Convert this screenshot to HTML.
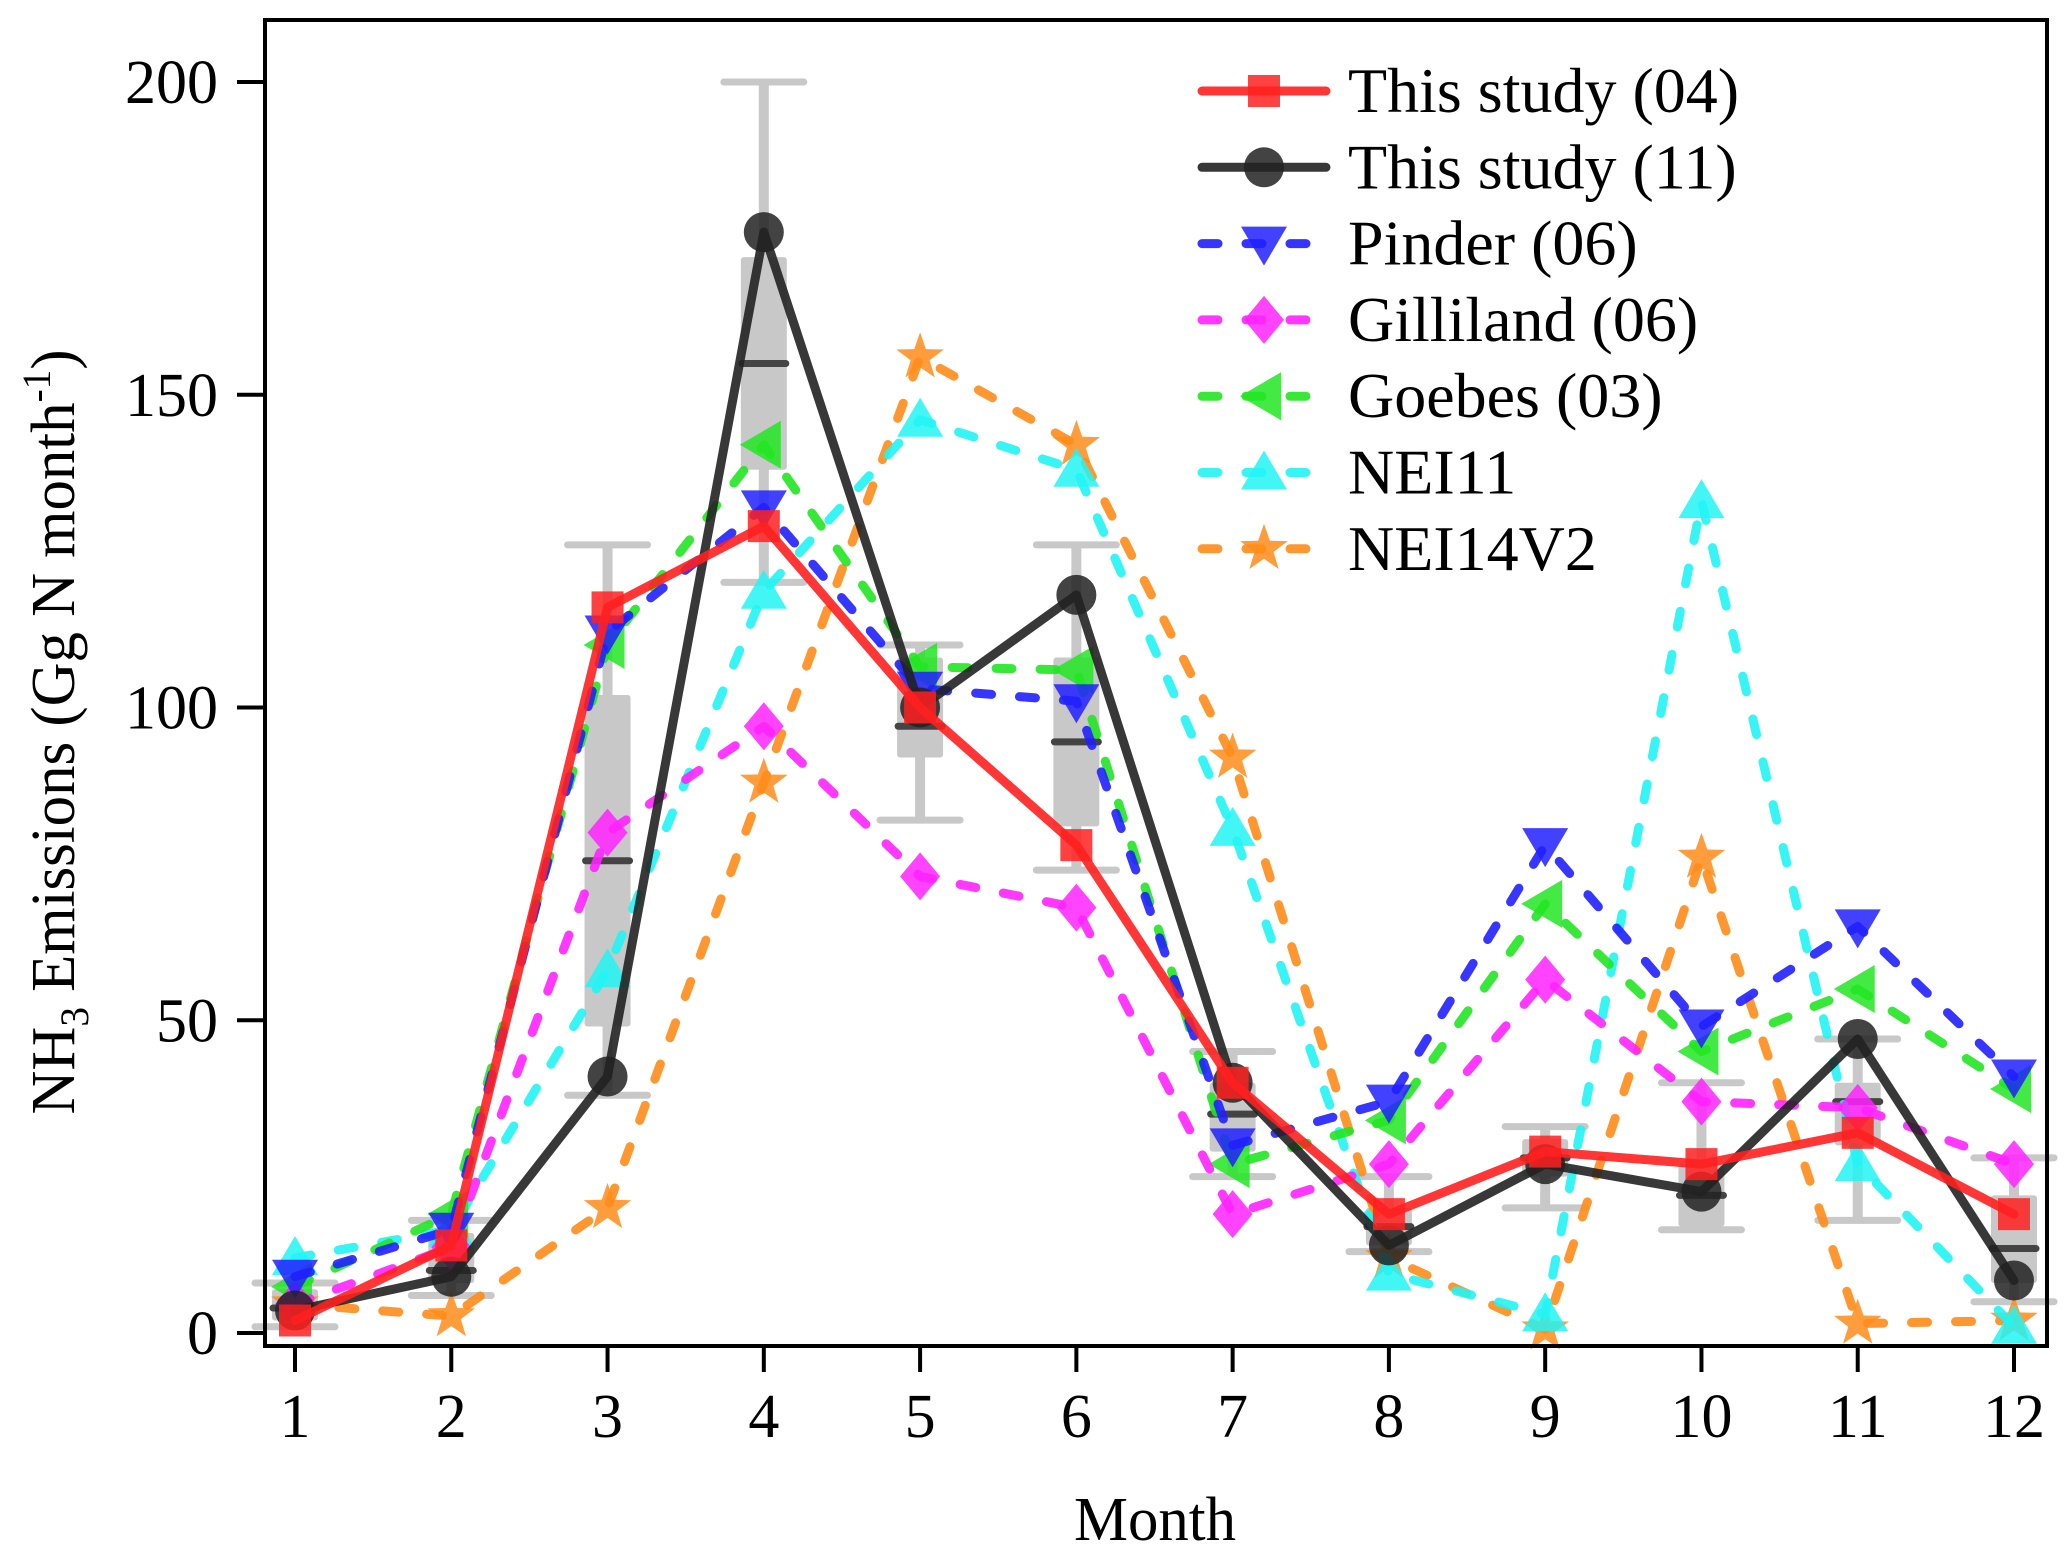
<!DOCTYPE html>
<html><head><meta charset="utf-8"><style>
html,body{margin:0;padding:0;background:#fff;}
svg{display:block;font-family:"Liberation Serif",serif;}
</style></head><body>
<svg id="chart" width="2067" height="1561" viewBox="0 0 2067 1561" xmlns="http://www.w3.org/2000/svg">
<rect x="0" y="0" width="2067" height="1561" fill="#fff"/>
<g id="boxes"></g>
<g id="series"></g>
<g id="axes"></g>
<g id="legend"></g>
<text x="1155" y="1540" font-size="62" text-anchor="middle" textLength="162" lengthAdjust="spacingAndGlyphs">Month</text>
<text transform="translate(74,732) rotate(-90)" font-size="62" text-anchor="middle" textLength="765" lengthAdjust="spacingAndGlyphs">NH<tspan font-size="40" dy="14">3</tspan><tspan dy="-14"> Emissions (Gg N month</tspan><tspan font-size="40" dy="-24">-1</tspan><tspan dy="24">)</tspan></text>
</svg>
<script>
const months = [1,2,3,4,5,6,7,8,9,10,11,12];
const yTicks = [0,50,100,150,200];
const study04 = [2,14,116,129,100,78,40,19,29,27,32,19];
const study11 = [3.6,9,41,176,100,118,40,14,27,22.6,47,8.4];
const pinder06 = [9,16.5,112,132,103,101,30,37,78,49,65,41];
const gilliland06 = [4.6,13.7,80,97,73,68,19,27,56.5,37,36,27];
const goebes03 = [7.4,19,110,142,106.5,106,27,34,68.6,45,55,39];
const nei11 = [12,16.5,58,118.5,146,138,80.6,9.5,3,133,27,1];
const nei14v2 = [4.6,2.7,20,88,156,142,92,12,0.6,76,1.5,2];
const boxWhiskLo = [1,6,38,120,82,74,25,13,20,16.5,18,5];
const boxQ1 = [2,8,49,138,92,81,29,14,25,17,30,8];
const boxMed = [4,10,75.5,155,97,94.5,35,17,28,22,37,13.5];
const boxQ3 = [7,16,102,172,108,108,40,20,31,27,40,22];
const boxWhiskHi = [8,18,126,200,110,126,45,25,33,40,47,28];
const legendLabels = ["This study (04)","This study (11)","Pinder (06)","Gilliland (06)","Goebes (03)","NEI11","NEI14V2"];

const NS="http://www.w3.org/2000/svg";
const X0=265,X1=2047,Y0=20,Y1=1346;
function xs(m){return 295+(m-1)*(2014-295)/11;}
function ys(v){return 1333-v*(1333-82)/200;}
function mk(tag,attrs,parent){const e=document.createElementNS(NS,tag);for(const k in attrs)e.setAttribute(k,attrs[k]);parent.appendChild(e);return e;}

const boxes=document.getElementById('boxes');
months.forEach((m,i)=>{
  const g=mk('g',{},boxes);
  
  
  const x=xs(m);
  mk('line',{x1:x,x2:x,y1:ys(boxWhiskHi[i]),y2:ys(boxWhiskLo[i]),stroke:'#c8c8c8','stroke-width':10},g);
  mk('line',{x1:x-40,x2:x+40,y1:ys(boxWhiskHi[i]),y2:ys(boxWhiskHi[i]),stroke:'#c8c8c8','stroke-width':7,'stroke-linecap':'round'},g);
  mk('line',{x1:x-40,x2:x+40,y1:ys(boxWhiskLo[i]),y2:ys(boxWhiskLo[i]),stroke:'#c8c8c8','stroke-width':7,'stroke-linecap':'round'},g);
  mk('rect',{x:x-23,y:ys(boxQ3[i]),width:46,height:ys(boxQ1[i])-ys(boxQ3[i]),fill:'#c8c8c8',rx:3},g);
  mk('line',{x1:x-22,x2:x+22,y1:ys(boxMed[i]),y2:ys(boxMed[i]),stroke:'#444','stroke-width':7,'stroke-linecap':'round'},g);
});

function marker(shape,x,y,color,parent){
  let e;
  if(shape==='square') e=mk('rect',{x:x-16,y:y-16,width:32,height:32,fill:color},parent);
  else if(shape==='circle') e=mk('circle',{cx:x,cy:y,r:20,fill:color},parent);
  else if(shape==='tdown') e=mk('polygon',{points:`${x-23},${y-17} ${x+23},${y-17} ${x},${y+22}`,fill:color},parent);
  else if(shape==='diamond') e=mk('polygon',{points:`${x},${y-24} ${x+20},${y} ${x},${y+24} ${x-20},${y}`,fill:color},parent);
  else if(shape==='tleft') e=mk('polygon',{points:`${x-24},${y} ${x+17},${y-24} ${x+17},${y+24}`,fill:color},parent);
  else if(shape==='tup') e=mk('polygon',{points:`${x-23},${y+17} ${x+23},${y+17} ${x},${y-22}`,fill:color},parent);
  else if(shape==='star'){let p=[];for(let k=0;k<10;k++){const r=k%2?10:25;const a=-Math.PI/2+k*Math.PI/5;p.push((x+r*Math.cos(a)).toFixed(1)+','+(y+r*Math.sin(a)).toFixed(1));}e=mk('polygon',{points:p.join(' '),fill:color},parent);}
  e.setAttribute('opacity','0.85');
  return e;
}

const seriesDefs=[
 {name:'nei14v2',data:nei14v2,color:'#ff8c1a',shape:'star',dash:true},
 {name:'nei11',data:nei11,color:'#22f4f4',shape:'tup',dash:true},
 {name:'goebes03',data:goebes03,color:'#22e622',shape:'tleft',dash:true},
 {name:'gilliland06',data:gilliland06,color:'#ff22ff',shape:'diamond',dash:true},
 {name:'pinder06',data:pinder06,color:'#2020ff',shape:'tdown',dash:true},
 {name:'study11',data:study11,color:'#222222',shape:'circle',dash:false},
 {name:'study04',data:study04,color:'#ff2020',shape:'square',dash:false}
];
const sl=document.getElementById('series');
seriesDefs.forEach(s=>{
  const g=mk('g',{},sl);
  
  
  const pts=s.data.map((v,i)=>xs(months[i]).toFixed(1)+','+ys(v).toFixed(1)).join(' ');
  const pl=mk('polyline',{points:pts,fill:'none',stroke:s.color,'stroke-width':9,'stroke-linecap':'round','stroke-linejoin':'round',opacity:0.9},g);
  if(s.dash) pl.setAttribute('stroke-dasharray','16 28');
  s.data.forEach((v,i)=>{
    const mkr=marker(s.shape,xs(months[i]),ys(v),s.color,g);
    
    
  });
});

const ax=document.getElementById('axes');
mk('rect',{x:X0,y:Y0,width:X1-X0,height:Y1-Y0,fill:'none',stroke:'#000','stroke-width':4},ax);
yTicks.forEach(t=>{
  const y=ys(t);
  const tk=mk('line',{x1:237,x2:X0,y1:y,y2:y,stroke:'#000','stroke-width':4},ax);
  
  
  const tx=mk('text',{x:218,y:y+21,'font-size':62,'text-anchor':'end'},ax);
  
  
  tx.textContent=t;
});
months.forEach(m=>{
  const x=xs(m);
  const tk=mk('line',{x1:x,x2:x,y1:Y1,y2:1372,stroke:'#000','stroke-width':4},ax);
  
  
  const tx=mk('text',{x:x,y:1437,'font-size':62,'text-anchor':'middle'},ax);
  
  
  tx.textContent=m;
});

const lg=document.getElementById('legend');
const legOrder=['study04','study11','pinder06','gilliland06','goebes03','nei11','nei14v2'];
legOrder.forEach((n,i)=>{
  const s=seriesDefs.find(d=>d.name===n);
  const y=91+i*76.3;
  const g=mk('g',{},lg);
  
  
  const l=mk('line',{x1:1202,x2:1326,y1:y,y2:y,stroke:s.color,'stroke-width':9,'stroke-linecap':'round',opacity:0.9},g);
  if(s.dash) l.setAttribute('stroke-dasharray','16 28');
  marker(s.shape,1264,y,s.color,g);
  const tx=mk('text',{x:1348,y:y+21,'font-size':64},g);
  tx.textContent=legendLabels[i];
});
</script>
</body></html>
